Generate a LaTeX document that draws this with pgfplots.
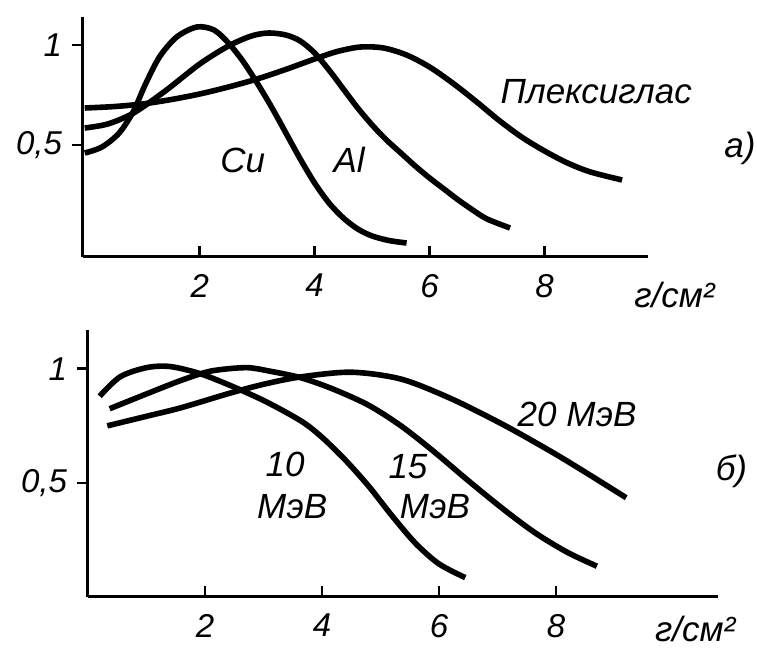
\documentclass[border=0pt]{standalone}
\usepackage{fontspec}
\setmainfont{Liberation Sans}
\usepackage{pgfplots}
\pgfplotsset{compat=1.18}

\pgfplotsset{
  panel/.style={
    scale only axis,
    axis lines*=left,
    axis line style={line width=1.5pt},
    xtick={2,4,6,8},
    ytick={0.5,1},
    yticklabels={{0,5},1},
    tick align=inside,
    major tick length=5.5pt,
    every tick/.style={black, line width=1.3pt},
    y tick style={xshift=-5.5pt},
    tick label style={font=\fontsize{16.5}{18}\selectfont\itshape,
      /pgf/number format/assume math mode=true},
    xticklabel style={yshift=-5pt},
    yticklabel style={xshift=-7pt},
    clip=false,
  },
  curve/.style={smooth, line width=2.8pt, black},
}
\newcommand{\lab}{\fontsize{17.5}{18}\selectfont\itshape}

\begin{document}
\begin{tikzpicture}
\useasboundingbox (0,0) rectangle (378.5pt,-326pt);

% --- a) ---
\begin{axis}[panel,
  at={(41.5pt,-128.5pt)}, anchor=south west,
  width=282.5pt, height=120pt,
  xmin=-0.03, xmax=9.8, ymin=-0.06, ymax=1.14]

% Cu
\addplot[curve] coordinates {
  (0,0.46) (0.3,0.49) (0.6,0.56) (0.85,0.67) (1.05,0.8) (1.3,0.94)
  (1.6,1.04) (1.95,1.09) (2.25,1.075) (2.5,1.01) (2.75,0.92) (3.0,0.81)
  (3.25,0.69) (3.5,0.56) (3.75,0.43) (4.0,0.31) (4.25,0.21) (4.5,0.135)
  (4.75,0.08) (5.0,0.045) (5.3,0.022) (5.6,0.01)
};
% Al
\addplot[curve] coordinates {
  (0,0.585) (0.4,0.605) (0.85,0.66) (1.4,0.77) (2.0,0.905) (2.5,0.995)
  (2.9,1.045) (3.2,1.06) (3.5,1.05) (3.75,1.02) (4.0,0.96) (4.25,0.875)
  (4.5,0.78) (4.75,0.685) (5.0,0.6) (5.25,0.525) (5.5,0.46) (5.75,0.395)
  (6.0,0.335) (6.25,0.28) (6.5,0.225) (6.75,0.175) (7.0,0.13) (7.4,0.085)
};
% Plexiglas
\addplot[curve] coordinates {
  (0,0.685) (0.5,0.692) (1.0,0.705) (1.5,0.727) (2.0,0.755) (2.5,0.79)
  (3.0,0.83) (3.5,0.878) (4.0,0.93) (4.4,0.968) (4.8,0.99) (5.2,0.985)
  (5.6,0.95) (6.0,0.89) (6.4,0.81) (6.8,0.72) (7.2,0.625) (7.6,0.54)
  (8.0,0.47) (8.4,0.41) (8.8,0.365) (9.35,0.325)
};

\node[font=\lab] at (axis cs:2.75,0.425) {Cu};
\node[font=\lab] at (axis cs:4.6,0.425) {Al};
\node[font=\lab] at (axis cs:8.9,0.765) {Плексиглас};
\node[font=\lab] at (axis cs:11.4,0.485) {а)};
\node[font=\lab] at (axis cs:10.26,-0.25) {г/см²};
\end{axis}

% --- б) ---
\begin{axis}[panel,
  at={(44pt,-298.5pt)}, anchor=south west,
  width=315pt, height=133.5pt,
  xmin=0, xmax=10.77, ymin=0, ymax=1.17]

% 10 MeV
\addplot[curve] coordinates {
  (0.2,0.88) (0.55,0.965) (1.0,1.005) (1.4,1.01) (1.9,0.98) (2.45,0.925)
  (3.05,0.855) (3.65,0.77) (4.0,0.7) (4.4,0.6) (4.8,0.485) (5.2,0.355)
  (5.6,0.235) (6.0,0.145) (6.45,0.085)
};
% 15 MeV
\addplot[curve] coordinates {
  (0.37,0.825) (1.05,0.895) (1.6,0.95) (2.1,0.99) (2.7,1.005) (3.1,0.99)
  (3.65,0.96) (4.2,0.91) (4.8,0.84) (5.35,0.75) (5.9,0.64) (6.5,0.51)
  (7.1,0.385) (7.65,0.28) (8.2,0.195) (8.7,0.135)
};
% 20 MeV
\addplot[curve] coordinates {
  (0.33,0.75) (1.05,0.795) (1.6,0.83) (2.45,0.895) (3.05,0.935)
  (3.65,0.965) (4.5,0.985) (5.35,0.955) (6.2,0.87) (7.1,0.755)
  (7.9,0.64) (8.45,0.555) (9.2,0.435)
};

\node[font=\lab] at (axis cs:3.37,0.58) {10};
\node[font=\lab] at (axis cs:3.49,0.395) {МэВ};
\node[font=\lab] at (axis cs:5.47,0.57) {15};
\node[font=\lab] at (axis cs:5.93,0.395) {МэВ};
\node[font=\lab] at (axis cs:8.36,0.80) {20 МэВ};
\node[font=\lab] at (axis cs:11.0,0.55) {б)};
\node[font=\lab] at (axis cs:10.38,-0.14) {г/см²};
\end{axis}
\end{tikzpicture}
\end{document}
